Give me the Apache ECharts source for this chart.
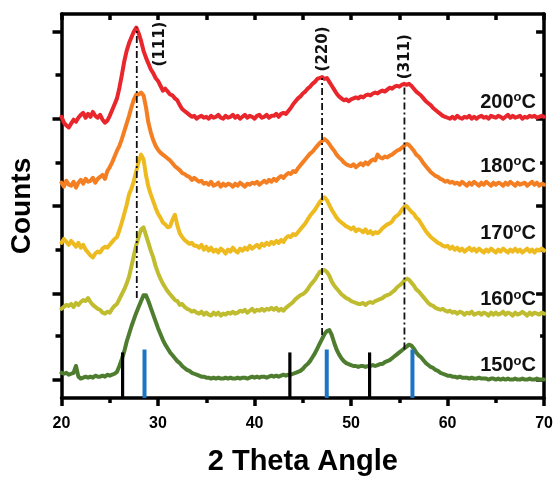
<!DOCTYPE html>
<html><head><meta charset="utf-8">
<script src="https://cdn.jsdelivr.net/npm/echarts@6/dist/echarts.min.js"></script>
<style>html,body{margin:0;padding:0;background:#fff}#c{width:556px;height:481px}</style>
</head><body><div id="c"></div>
<script>
// ---- data ----
const angleStart = 20, angleStep = 0.25; // sampling grid of the scans (2θ)
const temps = ['200', '180', '170', '160', '150'];
const xTicks = [20, 30, 40, 50, 60, 70];

const red200 = [
290,284,281,279, 283,287,285,289, 292,294,289,293, 290,295,291,289, 292,287,284,286,
291,297,303,309, 320,333,347,358, 366,372,378,382, 376,368,358,351, 345,339,335,330,
327,322,317,319, 316,313,312,309, 307,302,298,296, 294,292,290,291, 288,290,291,289,
290,288,291,289, 290,292,289,288, 291,289,290,292, 289,291,288,290, 292,289,291,290,
288,291,292,289, 290,292,289,291, 291,293,290,293, 294,293,296,299, 303,306,309,311,
314,316,319,321, 324,326,329,330, 331,329,330,326, 322,318,314,311, 309,307,308,306,
308,309,310,309, 311,310,312,313, 312,314,315,314, 316,317,316,318, 320,319,321,322,
321,323,324,323, 324,322,319,316, 314,312,309,306, 304,302,299,297, 295,293,291,290,
289,288,290,288, 291,289,288,290, 289,291,288,290, 288,290,291,289, 290,288,291,290,
289,291,290,288, 290,292,289,291, 289,290,291,288, 290,289,291,290, 291,289,290,291,
290];
const orange180 = [
222,218,224,220, 219,223,217,222, 225,221,226,223, 224,227,222,226, 228,230,226,234,
238,243,249,255, 260,267,275,283, 291,300,308,313, 313,315,312,300, 284,274,266,260,
256,253,251,249, 247,245,242,239, 237,235,232,231, 229,228,225,227, 225,223,224,221,
222,220,223,219, 220,222,218,221, 219,221,220,218, 221,219,222,220, 218,221,220,222,
221,223,220,222, 224,222,225,223, 226,224,227,229, 227,230,232,231, 234,233,237,240,
243,246,249,252, 254,257,260,263, 265,267,265,262, 258,255,251,248, 246,243,241,240,
239,241,238,240, 242,240,243,241, 244,246,245,251, 248,247,249,248, 250,251,253,255,
256,258,260,262, 261,258,255,251, 249,246,242,239, 236,233,231,229, 228,226,225,223,
224,222,223,221, 222,220,223,221, 219,222,220,223, 221,219,222,220, 223,221,219,222,
220,222,221,219, 222,220,223,221, 219,222,220,221, 222,219,221,223, 220,222,219,221,
220];
const yellow170 = [
160,164,161,158, 162,159,156,160, 155,158,153,150, 147,145,149,151, 150,154,156,155,
158,161,164,166, 173,181,190,199, 210,216,224,234, 244,251,246,230, 218,210,203,196,
190,186,181,179, 176,177,184,189, 178,170,166,163, 161,159,160,157, 157,155,158,153,
156,152,155,151, 153,150,154,152, 149,153,151,155, 152,150,154,152, 155,153,157,154,
156,158,155,159, 157,160,158,161, 159,162,160,163, 161,165,167,166, 169,168,171,174,
177,180,184,188, 191,194,198,202, 205,207,204,199, 194,190,186,183, 181,179,177,176,
174,176,172,174, 173,171,174,170, 172,169,171,170, 172,175,177,179, 180,182,186,188,
190,194,197,198, 195,192,190,186, 184,180,176,172, 169,166,164,162, 160,159,157,156,
157,154,156,153, 155,152,154,151, 153,155,152,154, 151,154,152,150, 153,151,154,152,
150,153,151,154, 152,150,153,151, 154,151,153,150, 152,154,151,153, 150,153,152,154,
152];
const olive160 = [
92,94,96,95, 97,94,98,96, 99,101,100,103, 99,96,94,92, 91,88,87,89,
88,92,95,97, 102,107,112,118, 125,136,147,158, 166,174,176,168, 160,152,145,136,
129,123,118,114, 110,107,104,101, 100,96,97,94, 92,91,89,90, 88,87,89,86,
88,86,85,88, 86,88,85,87, 86,88,87,89, 87,88,90,89, 91,88,90,92,
89,91,90,92, 90,92,91,93, 91,93,90,92, 90,93,95,97, 99,102,104,106,
107,109,112,116, 119,122,126,130, 131,132,130,126, 120,116,113,110, 107,105,103,102,
100,99,98,97, 97,98,96,98, 99,98,100,101, 102,103,105,106, 107,109,111,114,
116,118,121,123, 122,119,116,112, 110,107,104,101, 98,96,95,93, 92,91,92,90,
89,90,88,89, 87,89,88,86, 88,87,89,86, 87,88,86,88, 87,85,88,86,
88,86,87,89, 86,88,87,85, 88,86,87,89, 87,85,88,86, 88,87,86,88,
87];
const green150 = [
26,25,26,24, 25,26,33,22, 20,21,22,21, 22,21,23,22, 22,23,22,24,
23,24,25,27, 33,40,48,58, 66,74,81,88, 94,100,106,106, 100,93,86,79,
72,66,60,55, 51,47,44,41, 38,36,33,31, 29,28,26,25, 24,23,22,22,
21,21,20,21, 20,21,20,20, 21,20,21,20, 20,21,20,21, 21,20,21,22,
21,22,21,22, 22,21,22,23, 22,23,22,23, 24,23,24,24, 25,26,27,28,
30,33,35,38, 42,46,51,56, 61,66,69,70, 65,57,50,45, 41,38,36,35,
34,33,33,32, 33,33,32,33, 33,34,33,34, 35,35,37,38, 39,41,43,45,
47,49,51,53, 55,54,51,47, 44,42,39,36, 34,32,31,29, 28,26,25,24,
23,23,22,22, 21,22,21,21, 21,20,21,20, 20,21,20,20, 20,19,20,20,
19,20,19,20, 19,20,19,19, 20,19,19,20, 19,19,20,19, 19,20,19,19,
19];

const hkl = ['(111)', '(220)', '(311)'];
const hklAngle = [27.8, 47.0, 55.53];
const hklTop = [382, 330, 323];
const hklBottom = [103, 65, 50];
const refBlack = [26.33, 43.66, 51.92];
const refBlackH = [47, 47, 47];
const refBlue = [28.6, 47.48, 56.36];
const refBlueH = [50, 50, 50];
const yMajor = [19, 108, 198, 288, 378];
const yMinor = [64, 153, 243, 333];

// ---- layout / style ----
const FONT = 'Liberation Sans, Arial, sans-serif';
const colors = ['#E8262B', '#F47E22', '#EDBB1F', '#C0BC30', '#4E7D2F'];
const seriesVals = [red200, orange180, yellow170, olive160, green150];
const tempLabelPos = [[69.15, 305], [69.15, 239], [69.15, 170], [69.15, 101.5], [69.15, 33.5]];
const hklLabelPos = [[30.25, 365], [47.07, 360], [55.57, 352]];

const toPairs = arr => arr.map((v, i) => [angleStart + i * angleStep, v]);
const AX = '#000', AW = 3.5;

const lineSeries = seriesVals.map((arr, k) => ({
  type: 'line', data: toPairs(arr), showSymbol: false, symbol: 'none', sampling: null,
  lineStyle: { color: colors[k], width: 4, join: 'round', cap: 'round' },
  itemStyle: { color: colors[k] }, z: 2, animation: false
}));

function segSeries(data, stroke, width, dash, z) {
  return {
    type: 'custom', data: data, z: z, animation: false, silent: true,
    renderItem: (params, api) => {
      const p1 = api.coord([api.value(0), api.value(1)]);
      const p2 = api.coord([api.value(0), api.value(2)]);
      return { type: 'line', shape: { x1: p1[0], y1: p1[1], x2: p2[0], y2: p2[1] },
        style: { stroke: stroke, lineWidth: width, lineDash: dash } };
    }
  };
}

const refBlackData = refBlack.map((x, i) => [x, 0, refBlackH[i]]);
const refBlueData = refBlue.map((x, i) => [x, 0, refBlueH[i]]);
const hklLineData = hklAngle.map((x, i) => [x, hklBottom[i], hklTop[i]]);

const hklTextSeries = {
  type: 'custom', z: 5, animation: false, silent: true,
  data: hklLabelPos.map((p, i) => [p[0], p[1], i]),
  renderItem: (params, api) => {
    const p = api.coord([api.value(0), api.value(1)]);
    return { type: 'text', x: p[0], y: p[1], rotation: Math.PI / 2,
      style: { text: hkl[api.value(2)], font: 'bold 15px "DejaVu Sans"',
        fill: '#111', align: 'center', verticalAlign: 'middle' } };
  }
};
const tempTextSeries = {
  type: 'custom', z: 5, animation: false, silent: true,
  data: tempLabelPos.map((p, i) => [p[0], p[1], i]),
  renderItem: (params, api) => {
    const p = api.coord([api.value(0), api.value(1)]);
    return { type: 'text', x: p[0], y: p[1],
      style: { text: '{n|' + temps[api.value(2)] + '}{s|o}{n|C}',
        rich: {
          n: { fontSize: 20, fontWeight: 'bold', fontFamily: FONT, fill: '#111', lineHeight: 22 },
          s: { fontSize: 13, fontWeight: 'bold', fontFamily: FONT, fill: '#111', lineHeight: 11, verticalAlign: 'top' }
        },
        align: 'right', verticalAlign: 'middle' } };
  }
};

const yBase = { type: 'value', min: 0, max: 396, axisLabel: { show: false }, splitLine: { show: false } };

const option = {
  backgroundColor: '#fff',
  animation: false,
  grid: { left: 61.5, right: 9.5, top: 14, bottom: 71, containLabel: false },
  xAxis: [
    { type: 'value', min: 20, max: 70, interval: 10, position: 'bottom',
      axisLine: { onZero: false, lineStyle: { color: AX, width: AW } },
      axisTick: { length: 8, lineStyle: { color: AX, width: AW } },
      minorTick: { show: true, splitNumber: 2, length: 5, lineStyle: { color: AX, width: AW } },
      axisLabel: { color: '#000', fontSize: 16, fontWeight: 'bold', fontFamily: FONT, margin: 18,
        customValues: xTicks },
      splitLine: { show: false }, minorSplitLine: { show: false },
      name: '2 Theta Angle', nameLocation: 'middle', nameGap: 49,
      nameTextStyle: { color: '#000', fontSize: 29, fontWeight: 'bold', fontFamily: FONT } },
    { type: 'value', min: 20, max: 70, interval: 5, position: 'top',
      axisLine: { onZero: false, lineStyle: { color: AX, width: AW } },
      axisTick: { inside: true, length: 6, lineStyle: { color: AX, width: AW } },
      axisLabel: { show: false }, splitLine: { show: false } }
  ],
  yAxis: [
    Object.assign({}, yBase, { position: 'left',
      axisLine: { show: true, onZero: false, lineStyle: { color: AX, width: AW } },
      axisTick: { show: true, length: 9, customValues: yMajor, lineStyle: { color: AX, width: AW } },
      name: 'Counts', nameLocation: 'middle', nameGap: 25,
      nameTextStyle: { color: '#000', fontSize: 28, fontWeight: 'bold', fontFamily: FONT } }),
    Object.assign({}, yBase, { position: 'left',
      axisLine: { show: false },
      axisTick: { show: true, length: 6, customValues: yMinor, lineStyle: { color: AX, width: AW } } }),
    Object.assign({}, yBase, { position: 'right',
      axisLine: { show: true, onZero: false, lineStyle: { color: AX, width: AW } },
      axisTick: { show: true, inside: true, length: 8, customValues: yMajor, lineStyle: { color: AX, width: AW } } }),
    Object.assign({}, yBase, { position: 'right',
      axisLine: { show: false },
      axisTick: { show: true, inside: true, length: 4, customValues: yMinor, lineStyle: { color: AX, width: AW } } })
  ],
  series: lineSeries.concat([
    segSeries(hklLineData, '#111', 1.8, [7, 3, 2, 3], 4),
    segSeries(refBlackData, '#000', 3.2, null, 4),
    segSeries(refBlueData, '#1B75C4', 4, null, 4),
    hklTextSeries,
    tempTextSeries
  ])
};

const chart = echarts.init(document.getElementById('c'), null, { renderer: 'canvas' });
chart.setOption(option);
</script></body></html>
